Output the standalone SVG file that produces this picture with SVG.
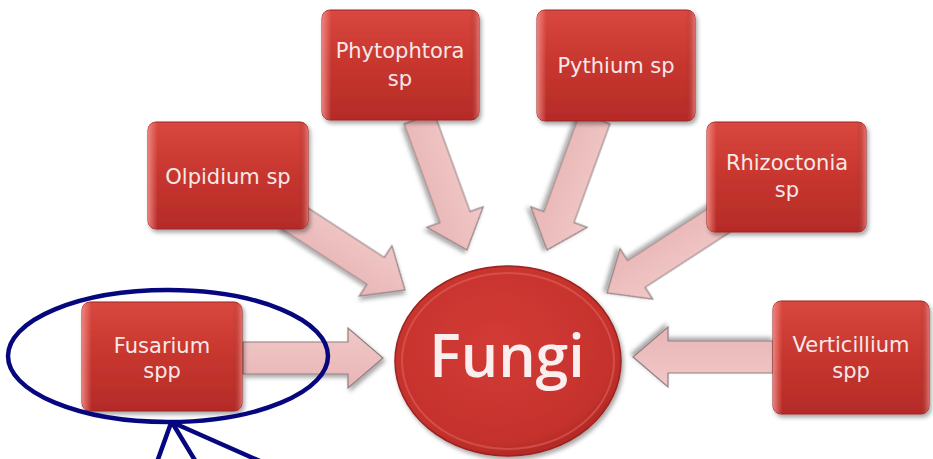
<svg xmlns="http://www.w3.org/2000/svg" width="933" height="459" viewBox="0 0 933 459">
  <defs>
    <linearGradient id="boxGrad" x1="0" y1="0" x2="0" y2="1">
      <stop offset="0" stop-color="#d9483f"/>
      <stop offset="0.45" stop-color="#c8372f"/>
      <stop offset="1" stop-color="#b52b28"/>
    </linearGradient>
    <linearGradient id="edgeGrad" x1="0" y1="0" x2="1" y2="0">
      <stop offset="0" stop-color="#f08a84" stop-opacity="0.9"/>
      <stop offset="0.06" stop-color="#f08a84" stop-opacity="0"/>
      <stop offset="0.94" stop-color="#8a1f1c" stop-opacity="0"/>
      <stop offset="1" stop-color="#f08a84" stop-opacity="0.7"/>
    </linearGradient>
    <radialGradient id="circGrad" cx="0.45" cy="0.4" r="0.65">
      <stop offset="0" stop-color="#d33b35"/>
      <stop offset="0.8" stop-color="#c5322d"/>
      <stop offset="1" stop-color="#a92522"/>
    </radialGradient>
    <linearGradient id="arrowGrad" x1="0" y1="0" x2="0" y2="1">
      <stop offset="0" stop-color="#f2c8c8"/>
      <stop offset="1" stop-color="#e8b5b5"/>
    </linearGradient>
    <filter id="shadow" x="-10%" y="-10%" width="130%" height="130%">
      <feDropShadow dx="2" dy="3" stdDeviation="2" flood-color="#000" flood-opacity="0.35"/>
    </filter>
    <path id="arr" d="M0,-16 L105,-16 L105,-30 L140,0 L105,30 L105,16 L0,16 Z"/>
  </defs>
  <style>
    .box { fill: url(#boxGrad); stroke: #9e2522; stroke-width: 1; filter: url(#shadow); }
    .bev { fill: url(#edgeGrad); stroke: none; }
    .lbl { font-family: "DejaVu Sans", "Liberation Sans", sans-serif; font-size: 21px; fill: #f6e8e8; text-anchor: middle; }
    .arrow { fill: url(#arrowGrad); stroke: #8f7f7f; stroke-width: 1.2; filter: url(#shadow); }
    .blue { fill: none; stroke: #06067f; stroke-width: 4.5; stroke-linecap: round; }
  </style>

  <g id="connectors">
    <use href="#arr" class="arrow" transform="translate(243,358)" />
    <use href="#arr" class="arrow" transform="translate(773,357) rotate(180)" />
    <use href="#arr" class="arrow" transform="translate(405,290) rotate(33) translate(-140,0)" />
    <use href="#arr" class="arrow" transform="translate(467,250) rotate(70) translate(-140,0)" />
    <use href="#arr" class="arrow" transform="translate(547,250) rotate(110) translate(-140,0)" />
    <use href="#arr" class="arrow" transform="translate(607,293) rotate(147) translate(-140,0)" />
  </g>

  <g id="node-fungi">
    <ellipse cx="508" cy="361" rx="113" ry="95" fill="url(#circGrad)" stroke="#9a2220" stroke-width="1.5" filter="url(#shadow)"/>
    <ellipse cx="508" cy="361" rx="106" ry="88" fill="none" stroke="#e0615a" stroke-width="2" stroke-opacity="0.6"/>
    <text x="507" y="377" font-family="'Open Sans', 'Liberation Sans', sans-serif" font-size="59" font-weight="600" fill="#fbeeee" text-anchor="middle">Fungi</text>
  </g>

  <g id="node-olpidium">
    <rect class="box" x="148" y="122" width="160" height="107" rx="8"/>
    <rect class="bev" x="148" y="122" width="160" height="107" rx="8"/>
    <text class="lbl" x="228" y="184">Olpidium sp</text>
  </g>

  <g id="node-phytophtora">
    <rect class="box" x="322" y="10" width="157" height="110" rx="8"/>
    <rect class="bev" x="322" y="10" width="157" height="110" rx="8"/>
    <text class="lbl" x="400" y="58">Phytophtora</text>
    <text class="lbl" x="400" y="86">sp</text>
  </g>

  <g id="node-pythium">
    <rect class="box" x="537" y="10" width="158" height="111" rx="8"/>
    <rect class="bev" x="537" y="10" width="158" height="111" rx="8"/>
    <text class="lbl" x="616" y="73">Pythium sp</text>
  </g>

  <g id="node-rhizoctonia">
    <rect class="box" x="707" y="122" width="159" height="110" rx="8"/>
    <rect class="bev" x="707" y="122" width="159" height="110" rx="8"/>
    <text class="lbl" x="787" y="170">Rhizoctonia</text>
    <text class="lbl" x="787" y="197">sp</text>
  </g>

  <g id="node-fusarium">
    <rect class="box" x="82" y="302" width="160" height="109" rx="8"/>
    <rect class="bev" x="82" y="302" width="160" height="109" rx="8"/>
    <text class="lbl" x="162" y="353">Fusarium</text>
    <text class="lbl" x="162" y="378">spp</text>
  </g>

  <g id="node-verticillium">
    <rect class="box" x="773" y="301" width="156" height="113" rx="8"/>
    <rect class="bev" x="773" y="301" width="156" height="113" rx="8"/>
    <text class="lbl" x="851" y="352">Verticillium</text>
    <text class="lbl" x="851" y="378">spp</text>
  </g>

  <g id="annotation">
    <ellipse class="blue" cx="168" cy="356" rx="160" ry="66"/>
    <line class="blue" x1="171" y1="423" x2="157" y2="462"/>
    <line class="blue" x1="173" y1="424" x2="196" y2="462"/>
    <line class="blue" x1="176" y1="424" x2="262" y2="462"/>
  </g>
</svg>
